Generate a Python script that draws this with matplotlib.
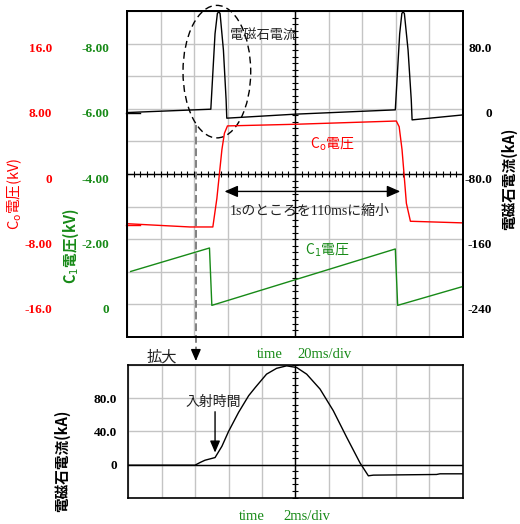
import numpy as np
import matplotlib
matplotlib.use("Agg")
import matplotlib.pyplot as plt
import matplotlib.transforms as mtransforms
from matplotlib.patches import Ellipse

plt.rcParams['font.family'] = ['Noto Sans CJK JP', 'DejaVu Sans']
SERIF = ['Liberation Serif', 'Noto Sans CJK JP', 'DejaVu Sans']
RED = '#ff0000'
GREEN = '#178a17'
GRID = '#c4c4c4'

# upper panel: time in ms (20ms/div)
t_mag = [0, 49.9, 52.4, 53.8, 54.6, 55.4, 57.4, 59.0, 59.4, 100, 159.7, 162.3, 163.6, 164.3, 165.1, 167.3, 169.2, 169.7, 200]
i_mag = [-4.6, -0.5, 92, 117, 119, 117, 72, 11, -11.5, -6.6, -1.3, 92, 117, 119, 117, 72, 11, -13.6, -7.5]

t_co = [0, 37.5, 51.1, 53.5, 55.0, 56.5, 58.0, 59.8, 100, 160.3, 162.0, 163.7, 164.7, 166.3, 168.7, 200]
v_co = [-6.1, -6.5, -6.5, -3.0, 0.0, 3.0, 5.0, 5.9, 6.1, 6.5, 5.8, 3.0, 0.5, -3.6, -5.8, -6.0]

t_c1 = [2.2, 49.1, 50.5, 159.7, 161.1, 200]
v_c1 = [-1.01, -1.73, 0.03, -1.70, 0.03, -0.55]

# lower panel: time in ms (2ms/div)
t_zoom = [0, 3.99, 4.3, 4.59, 5.19, 5.6, 6.0, 6.6, 7.2, 7.6, 8.27, 8.87, 9.47, 10.07, 10.67, 11.47, 12.26, 13.06, 13.86, 14.36, 14.66, 18.44, 18.64, 20]
i_zoom = [-0.8, -0.8, 2.5, 5.2, 8.4, 22, 40, 63, 83, 93, 109, 116, 119, 117, 109, 91, 65, 33, 2, -13.6, -12.8, -12, -11.2, -11.2]

cur_ticks = [-240, -160, -80, 0, 80]
cur_labels = ['-240', '-160', '-80.0', '0', '80.0']
co_ticks = [-16, -8, 0, 8, 16]
co_labels = ['-16.0', '-8.00', '0', '8.00', '16.0']
c1_ticks = [0, -2, -4, -6, -8]
c1_labels = ['0', '-2.00', '-4.00', '-6.00', '-8.00']
zoom_ticks = [0, 40, 80]
zoom_labels = ['0', '40.0', '80.0']

tick_kw = dict(family=SERIF, fontweight='bold', fontsize=9.5)

fig = plt.figure(figsize=(5.2, 5.24), dpi=100)
shift_down = mtransforms.ScaledTranslation(0, -3 / 72, fig.dpi_scale_trans)

# ---- upper panel ----
ax = fig.add_axes([0.2442, 0.3569, 0.6462, 0.6221])
ax_co = ax.twinx()
ax_c1 = ax.twinx()

ax.set_xlim(0, 200)
ax.set_ylim(-280, 120)
ax.set_xticks([])
ax.set_xticks(np.arange(0, 201, 20), minor=True)
ax.set_yticks(np.arange(-280, 121, 40), minor=True)
ax.yaxis.tick_right()
ax.set_yticks(cur_ticks, cur_labels, ha='right', **tick_kw)
ax.grid(True, which='both', color=GRID, lw=1)
ax.tick_params(which='both', length=0)
ax.tick_params(axis='y', pad=21)
ax.set_axisbelow(True)

# centre axes with small divisions
ax.axvline(100, color='k', lw=1)
ax.axhline(-80, color='k', lw=1)
ax.plot(np.arange(0, 201, 4), np.full(51, -80), ls='none', marker='|', ms=5, mew=0.8, color='k')
ax.plot(np.full(51, 100), np.arange(-280, 121, 8), ls='none', marker='_', ms=5, mew=0.8, color='k')

ax_co.set_ylim(-20, 20)
ax_co.yaxis.tick_left()
ax_co.set_yticks(co_ticks, co_labels, **tick_kw)
ax_co.tick_params(length=0, pad=54, labelcolor=RED)

ax_c1.set_ylim(1, -9)
ax_c1.yaxis.tick_left()
ax_c1.set_yticks(c1_ticks, c1_labels, **tick_kw)
ax_c1.tick_params(length=0, pad=13, labelcolor=GREEN)

for a in (ax, ax_co, ax_c1):
    for s in a.spines.values():
        s.set_linewidth(1.2)
    for lab in a.get_yticklabels():
        lab.set_transform(lab.get_transform() + shift_down)

ax.plot(t_mag, i_mag, color='k', lw=1)
ax_co.plot(t_co, v_co, color=RED, lw=1)
ax_c1.plot(t_c1, v_c1, color=GREEN, lw=1)

# channel markers on left edge
ax.plot([-0.003, 0.04], [0.688, 0.688], transform=ax.transAxes, color='k', lw=1, clip_on=False)
ax.plot([-0.003, 0.04], [0.3436, 0.3436], transform=ax.transAxes, color=RED, lw=1, clip_on=False)

ax.add_patch(Ellipse((53.5, 45.6), 40.3, 162.6, fill=False, ec='k', lw=1,
                     ls=(0, (5, 3)), clip_on=False))
ax.text(61.4, 90.5, '電磁石電流', fontsize=9.5, color='#222222', va='center')
ax.text(109, -44, r'C$_{\rm o}$電圧', fontsize=10, color=RED, va='center')
ax.annotate('', xy=(56.4, -101.4), xytext=(164.3, -101.4),
            arrowprops=dict(arrowstyle='<|-|>,head_length=0.8,head_width=0.35',
                            color='k', lw=1, mutation_scale=10))
ax.text(108.5, -126, '1sのところを110msに縮小', fontsize=10, family=SERIF,
        color='#222222', ha='center', va='center')
ax.text(106, -174, r'C$_1$電圧', fontsize=10, color=GREEN, va='center')

# dashed marker down to zoomed panel
ax.plot([41, 41], [-20, -297], ls=(0, (4, 2)), color='#808080', lw=1.4, clip_on=False)
ax.annotate('', xy=(41, -313), xytext=(41, -296), annotation_clip=False,
            arrowprops=dict(arrowstyle='-|>,head_length=0.7,head_width=0.3',
                            color='k', lw=1, mutation_scale=10))

# ---- lower panel ----
axb = fig.add_axes([0.2467, 0.0502, 0.643, 0.2532])
axb.set_xlim(0, 20)
axb.set_ylim(-40, 120)
axb.set_xticks([])
axb.set_xticks(np.arange(0, 21, 2), minor=True)
axb.set_yticks(np.arange(-40, 121, 40), minor=True)
axb.set_yticks(zoom_ticks, zoom_labels, **tick_kw)
axb.grid(True, which='both', color=GRID, lw=1)
axb.tick_params(which='both', length=0)
axb.tick_params(axis='y', pad=8)
axb.set_axisbelow(True)
for s in axb.spines.values():
    s.set_linewidth(1.2)
axb.axvline(10, color='k', lw=1)
axb.axhline(0, color='k', lw=1)
axb.plot(np.full(21, 10), np.arange(-40, 121, 8), ls='none', marker='_', ms=5, mew=0.8, color='k')
axb.plot(t_zoom, i_zoom, color='k', lw=1)

axb.text(5.07, 75, '入射時間', fontsize=10, color='#222222', ha='center', va='center')
axb.annotate('', xy=(5.19, 11), xytext=(5.19, 67),
             arrowprops=dict(arrowstyle='-|>,head_length=0.7,head_width=0.3',
                             color='k', lw=1, mutation_scale=10))

# ---- figure labels ----
fig.text(0.029, 0.630, r'C$_{\rm o}$電圧(kV)', rotation=90, color=RED, fontsize=10.5,
         ha='center', va='center')
fig.text(0.1365, 0.530, r'C$_1$電圧(kV)', rotation=90, color=GREEN, fontsize=10.5,
         weight='bold', ha='center', va='center')
fig.text(0.979, 0.659, '電磁石電流(kA)', rotation=90, fontsize=10.5, weight='bold',
         ha='center', va='center')
fig.text(0.119, 0.120, '電磁石電流(kA)', rotation=90, fontsize=10.5, weight='bold',
         ha='center', va='center')
fig.text(0.311, 0.3193, '拡大', fontsize=11, color='#222222', ha='center', va='center')
fig.text(0.518, 0.3244, 'time', fontsize=10.5, family=SERIF, color=GREEN, ha='center', va='center')
fig.text(0.572, 0.3244, '20ms/div', fontsize=10.5, family=SERIF, color=GREEN, ha='left', va='center')
fig.text(0.4837, 0.014, 'time', fontsize=10.5, family=SERIF, color=GREEN, ha='center', va='center')
fig.text(0.544, 0.014, '2ms/div', fontsize=10.5, family=SERIF, color=GREEN, ha='left', va='center')

fig.savefig('out.png', dpi=100)
